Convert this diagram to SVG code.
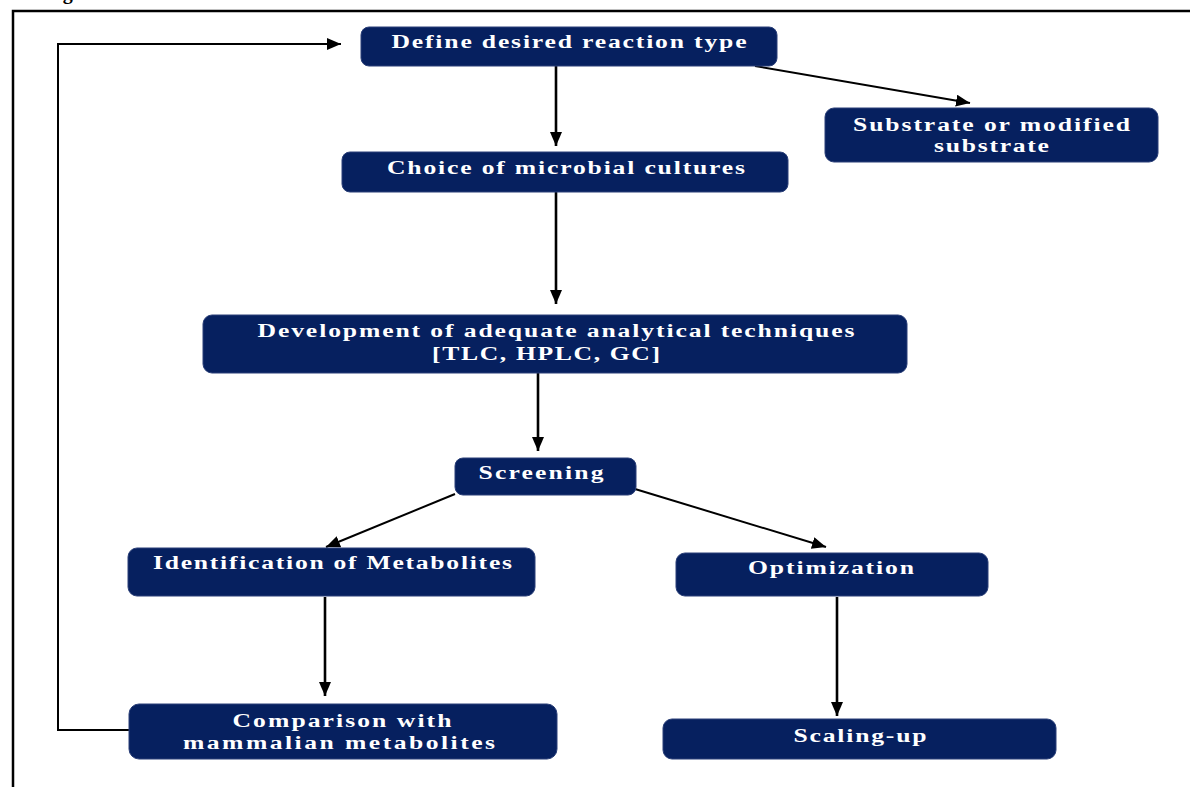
<svg xmlns="http://www.w3.org/2000/svg" width="1190" height="787" viewBox="0 0 1190 787">
<style>
.box{fill:#06205f;stroke:#2a3f78;stroke-width:1}
.t{font-family:"Liberation Serif","Times New Roman",serif;font-weight:bold;font-size:19px;fill:#ffffff;text-anchor:middle}
.c{fill:none;stroke:#000;stroke-width:2}
.v{fill:none;stroke:#000;stroke-width:2.6}
.frame{fill:none;stroke:#000;stroke-width:2.5}
</style>
<defs>
<marker id="ah" markerUnits="userSpaceOnUse" markerWidth="16" markerHeight="14" refX="14" refY="6" orient="auto">
<path d="M0,0 L14,6 L0,12 Z" fill="#000"/>
</marker>
</defs>
<rect width="1190" height="787" fill="#fff"/>
<text x="45" y="-1" font-family="Liberation Serif,serif" font-weight="bold" font-size="20" fill="#000">Fig</text>
<path class="frame" d="M13,787 L13,11 L1190,11"/>
<g id="connectors">
<path class="v" d="M556,66 L556,146" marker-end="url(#ah)"/>
<path class="c" d="M755,66 L970,103" marker-end="url(#ah)"/>
<path class="v" d="M556,192 L556,304" marker-end="url(#ah)"/>
<path class="v" d="M538,373 L538,451" marker-end="url(#ah)"/>
<path class="c" d="M455,494 L326,547" marker-end="url(#ah)"/>
<path class="c" d="M635,489 L826,547" marker-end="url(#ah)"/>
<path class="v" d="M325,597 L325,696" marker-end="url(#ah)"/>
<path class="v" d="M837,597 L837,716" marker-end="url(#ah)"/>
<path class="c" d="M129,730 L58,730 L58,44 L341,44" marker-end="url(#ah)"/>
</g>
<g id="n1"><rect class="box" x="361" y="27" width="416" height="39" rx="8"/><text class="t" transform="translate(569,48) scale(1.35,1)" textLength="263" lengthAdjust="spacing">Define desired reaction type</text></g>
<g id="n2"><rect class="box" x="342" y="152" width="446" height="40" rx="8"/><text class="t" transform="translate(566,174) scale(1.35,1)" textLength="265.2" lengthAdjust="spacing">Choice of microbial cultures</text></g>
<g id="n3"><rect class="box" x="825" y="108" width="333" height="54" rx="9"/><text class="t" transform="translate(991.5,131) scale(1.35,1)" textLength="205.2" lengthAdjust="spacing">Substrate or modified</text><text class="t" transform="translate(991.5,152) scale(1.35,1)" textLength="85.2" lengthAdjust="spacing">substrate</text></g>
<g id="n4"><rect class="box" x="203" y="315" width="704" height="58" rx="9"/><text class="t" transform="translate(556,337) scale(1.35,1)" textLength="442.2" lengthAdjust="spacing">Development of adequate analytical techniques</text><text class="t" transform="translate(546,360) scale(1.35,1)" textLength="168.9" lengthAdjust="spacing">[TLC, HPLC, GC]</text></g>
<g id="n5"><rect class="box" x="455" y="458" width="181" height="37" rx="8"/><text class="t" transform="translate(541,479) scale(1.35,1)" textLength="92.6" lengthAdjust="spacing">Screening</text></g>
<g id="n6"><rect class="box" x="128" y="548" width="407" height="48" rx="9"/><text class="t" transform="translate(332.5,569) scale(1.35,1)" textLength="265.9" lengthAdjust="spacing">Identification of Metabolites</text></g>
<g id="n7"><rect class="box" x="676" y="553" width="312" height="43" rx="9"/><text class="t" transform="translate(831,574) scale(1.35,1)" textLength="123" lengthAdjust="spacing">Optimization</text></g>
<g id="n8"><rect class="box" x="129" y="704" width="428" height="55" rx="10"/><text class="t" transform="translate(342,727) scale(1.35,1)" textLength="162.2" lengthAdjust="spacing">Comparison with</text><text class="t" transform="translate(339,749) scale(1.35,1)" textLength="231.1" lengthAdjust="spacing">mammalian metabolites</text></g>
<g id="n9"><rect class="box" x="663" y="719" width="393" height="40" rx="9"/><text class="t" transform="translate(860,742) scale(1.35,1)" textLength="98.5" lengthAdjust="spacing">Scaling-up</text></g>
</svg>
